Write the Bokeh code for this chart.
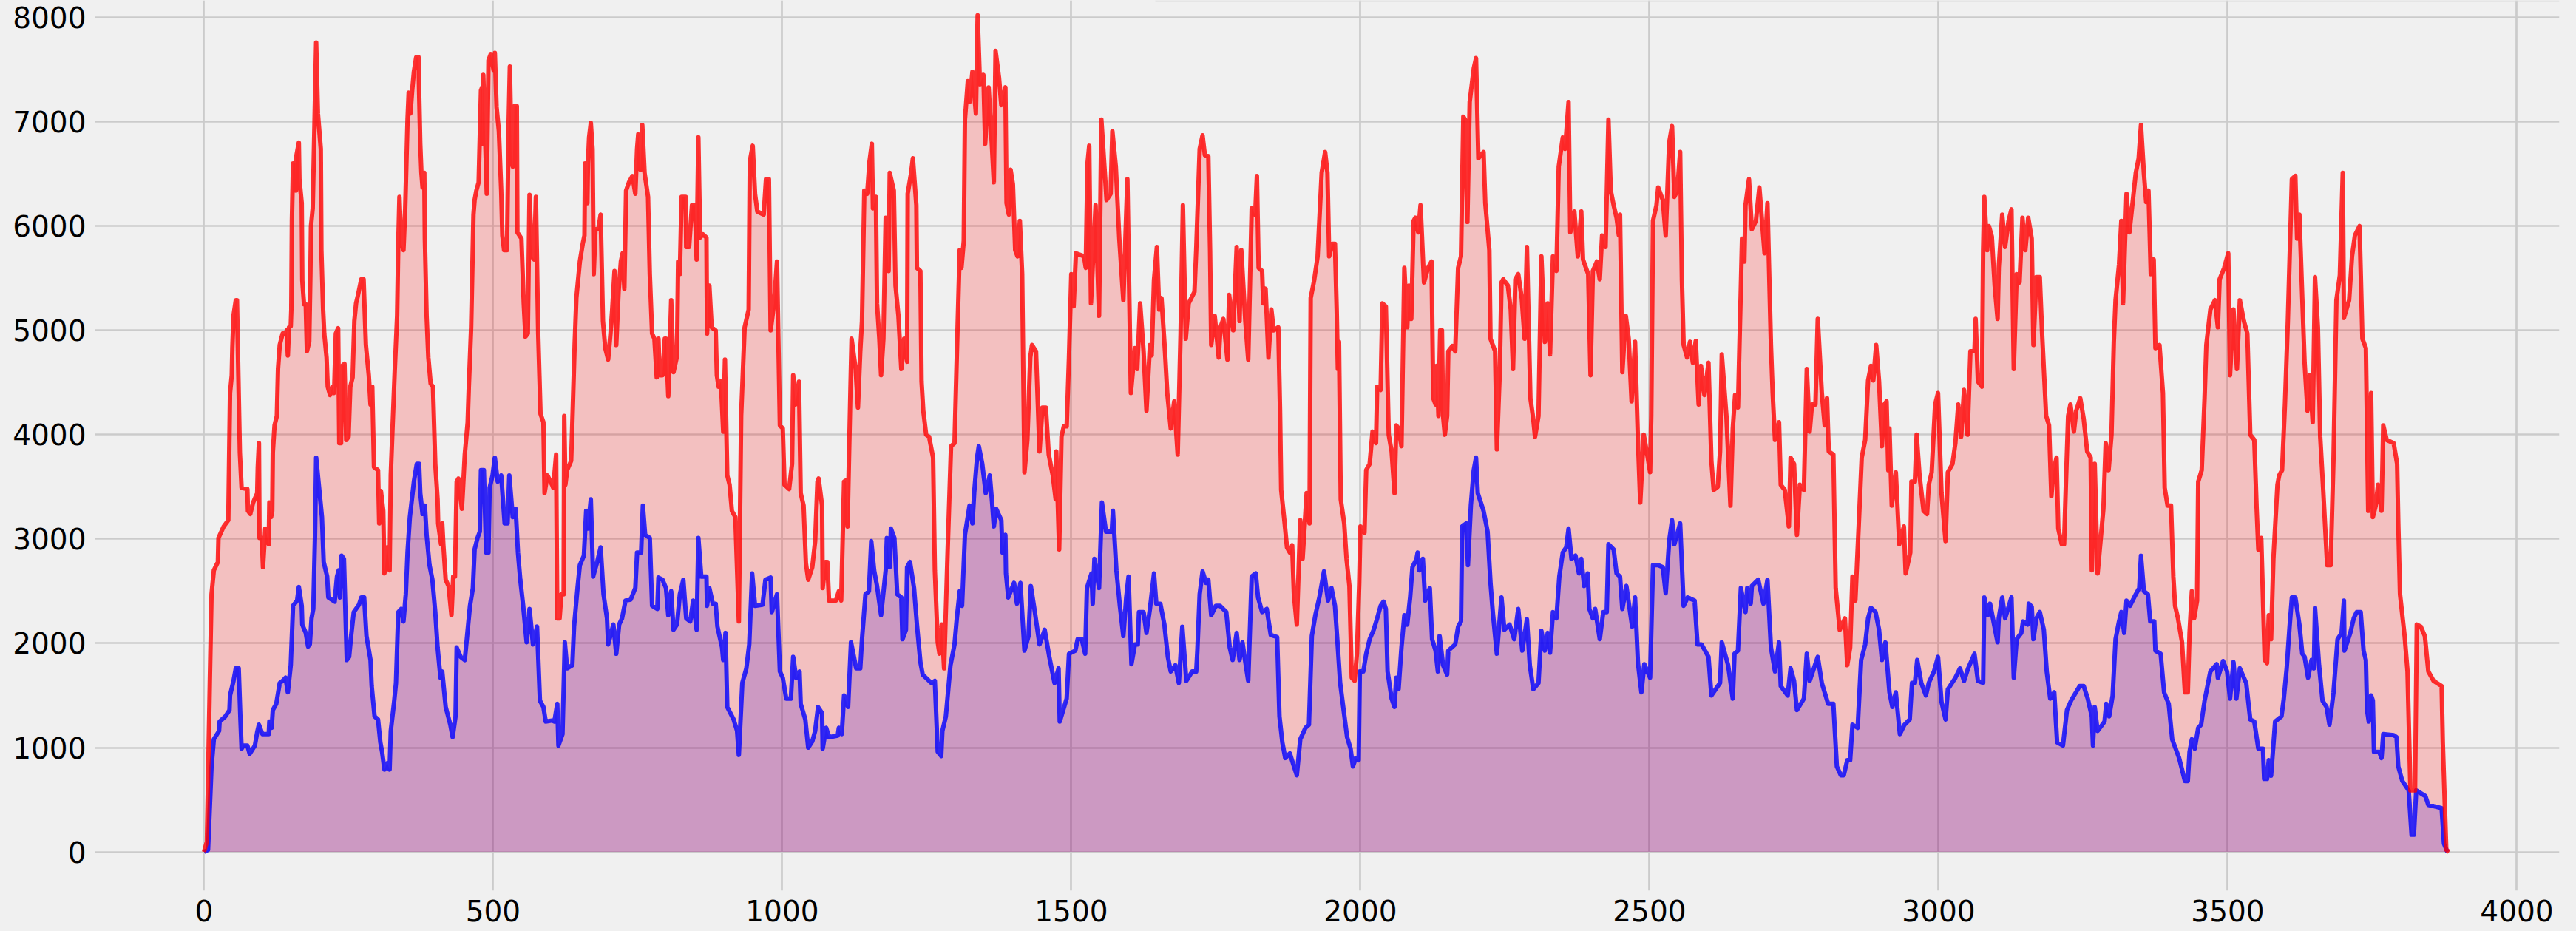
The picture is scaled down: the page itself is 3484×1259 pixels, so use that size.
from bokeh.plotting import figure
from bokeh.models import FixedTicker, Range1d, BoxAnnotation
from bokeh.embed import file_html
from bokeh.resources import INLINE

x_ticks = [0, 500, 1000, 1500, 2000, 2500, 3000, 3500, 4000]
y_ticks = [0, 1000, 2000, 3000, 4000, 5000, 6000, 7000, 8000]

red_a = [(0,0),(5,100),(10,1615),(13,2470),(17,2700),(24,2780),(25,3010),(34,3120),(42,3180),(45,4400),(48,4570),(49,4830),(51,5140),(55,5290),(57,5290),(60,4400),(62,3830),(65,3490),(75,3480),(76,3270),(80,3240),(85,3350),(92,3440),(93,3690),(95,3920),(96,3010),(100,3010),(102,2730),(106,3100),(112,2950),(113,3350),(116,3210),(118,3270),(119,3830),(122,4090),(126,4180),(128,4630),(131,4860),(136,4970),(141,4970),(143,5000),(145,4760),(147,5030),(150,5040),(151,5200),(152,6050),(154,6600),(158,6600),(159,6340),(160,6680),(164,6800),(165,6450),(169,6220),(170,5480),(173,5250),(176,5250),(178,4800),(182,4890),(184,5540),(185,6000),(188,6170),(191,6960),(194,7760),(197,7080),(202,6740),(203,5770),(206,5200),(208,4970),(212,4740),(214,4460),(218,4380),(222,4460),(225,4400),(228,4970),(232,5020),(234,3920),(237,3920),(239,4660),(243,4680),(246,3950),(250,3980),(253,4460),(257,4550),(260,5090),(263,5260),(266,5330),(272,5490),(276,5490),(280,4860),(285,4570),(288,4290),(291,4460),(294,3690),(301,3660),(303,3150),(306,3460),(310,3270),(312,2670),(317,2920),(321,2700),(323,3610),(326,4060),(330,4630),(334,5140),(336,5830),(338,6280),(341,5830),(345,5770),(348,6170),(352,7020),(354,7280),(357,7080),(360,7300),(363,7480),(367,7620),(371,7620),(372,7300),(374,6790),(376,6510),(378,6370),(381,6510),(382,5880),(385,5140),(388,4740),(392,4490),(396,4460),(400,3720),(404,3380),(405,3150),(410,2950),(412,3150),(414,2940),(418,2610),(423,2550),(428,2270),(431,2640),(434,2640),(437,3550),(440,3580),(443,3440),(446,3290),(448,3490),(451,3810),(456,4120),(458,4460),(462,5030),(466,6110),(468,6250),(471,6340),(475,6420),(479,7300),(481,7330),(482,6790),(483,7450),(486,6900),(489,6310),(492,7590),(496,7650),(501,7490),(503,7660),(506,7140),(510,6910),(514,6340),(516,5910),(519,5770),(524,5770),(527,7020),(529,7530),(532,6620),(534,6570),(537,7150),(541,7150),(542,5940),(549,5880),(553,5260),(556,4940),(560,4970),(563,6300),(567,5710),(571,5680),(574,6280),(578,4970),(582,4200),(587,4120),(589,3440),(594,3610),(602,3520),(604,3490),(609,3810),(611,2240),(615,2240),(618,2470),(622,2470),(623,4180),(625,3520),(628,3660),(635,3750),(638,4290),(641,4860),(644,5310),(650,5660),(655,5830),(658,5910),(659,6600),(663,6220),(664,6600),(666,6850),(669,6990),(672,6740),(674,5540),(677,5970),(682,5970),(686,6110),(690,5090),(694,4830),(699,4720),(703,4970),(706,5200),(710,5570),(713,4860),(717,5370),(721,5660),(724,5740),(727,5400),(730,6340),(735,6420),(741,6480),(746,6310),(749,6740),(751,6880),(755,6540),(758,6970),(762,6510),(768,6280),(771,5540),(775,4970),(779,4920),(783,4550),(786,4920),(788,4570),(793,4570),(797,4920)]

red_b = [(799,4920),(803,4370),(808,5290),(812,4600),(818,4750),(820,5660),(823,5540),(826,6280),(833,6280),(834,5800),(839,5800),(844,6200),(849,6200),(852,5680),(855,6850),(858,5890),(863,5920),(869,5890),(870,4970),(874,5430),(878,5030),(885,5000),(887,4570),(890,4460),(894,4510),(898,4030),(901,4720),(905,3610),(909,3520),(913,3270),(919,3210),(925,2210),(929,4180),(935,5030),(942,5200),(944,6620),(949,6770),(953,6310),(957,6140),(968,6110),(972,6450),(977,6450),(980,5000),(986,5260),(991,5660),(996,4090),(1001,4060),(1004,3520),(1012,3480),(1017,3720),(1019,4570),(1023,4290),(1029,4510),(1032,3440),(1037,3320),(1041,2770),(1045,2610),(1052,2730),(1057,2980),(1061,3550),(1063,3580),(1069,3320),(1070,2530),(1075,2780),(1078,2780),(1081,2410),(1093,2410),(1098,2500),(1102,2410),(1107,3550),(1110,3560),(1113,3120),(1118,4430),(1120,4920),(1127,4630),(1131,4260),(1135,4800),(1138,5090),(1142,6340),(1147,6310),(1151,6620),(1155,6790),(1157,6170),(1162,6280),(1164,5260),(1168,4920),(1171,4570),(1175,4920),(1179,6080),(1184,5570),(1186,6510),(1193,6340),(1196,5430),(1201,5140),(1206,4630),(1211,4920),(1216,4700),(1217,6310),(1223,6510),(1226,6650),(1232,6200),(1233,5600),(1239,5570),(1241,4510),(1244,4230),(1249,4000),(1254,3980),(1261,3780),(1264,2700),(1269,2010),(1272,1900),(1276,2180),(1280,1760),(1286,2870),(1292,3890),(1298,3920),(1303,4970),(1307,5770),(1310,5600),(1314,5860),(1316,7020),(1321,7390),(1324,7190),(1329,7480),(1335,7080),(1338,8020),(1342,7360),(1348,7450),(1351,6790),(1357,7330),(1363,6740),(1366,6420),(1369,7680),(1375,7420),(1379,7160),(1386,7330),(1388,6220),(1392,6110),(1395,6540),(1399,6400),(1403,5770),(1407,5710),(1411,6050),(1415,5540),(1419,3640),(1424,3950),(1429,4740),(1432,4860),(1439,4800),(1445,3840),(1450,4260),(1456,4260),(1461,3810),(1468,3610),(1473,3380),(1474,3840),(1479,2900),(1483,3980),(1487,4080),(1492,4080),(1496,4740),(1500,5540),(1504,5230),(1508,5740),(1522,5710),(1525,5600),(1528,6600),(1531,6770),(1534,5260),(1542,6200),(1548,5140),(1552,7020),(1561,6250),(1568,6310),(1571,6910),(1577,6570),(1583,5880),(1590,5290),(1597,6450),(1603,4400),(1610,4830),(1614,4630),(1619,5260),(1625,4800),(1630,4230),(1636,4860),(1639,4760),(1643,5480),(1648,5800),(1652,5200),(1656,5310),(1662,4800),(1666,4400),(1672,4060),(1678,4320),(1684,3810),(1689,4970),(1693,6200),(1698,4920),(1703,5260),(1713,5370),(1716,5770),(1722,6740),(1727,6870),(1731,6680),(1737,6670),(1740,5770),(1742,4860),(1748,5140),(1755,4740),(1758,5030),(1763,5110),(1770,4720),(1773,5340),(1780,5000),(1786,5800),(1791,5090),(1794,5770),(1801,5090),(1806,4720),(1812,6170),(1818,6110),(1821,6480),(1824,5600),(1830,5570),(1832,5260),(1836,5400),(1841,4740),(1846,5200),(1850,5000),(1858,5030),(1861,4230),(1863,3470),(1869,3150),(1873,2920),(1878,2870),(1882,2940),(1885,2470),(1890,2180),(1896,3180),(1900,2810),(1907,3440),(1912,3150),(1914,5310),(1920,5480),(1926,5710),(1933,6510),(1939,6710),(1943,6510),(1946,5710)]

red_c = [(1951,5830),(1956,5830),(1959,5200),(1961,4630),(1963,4890),(1966,3380),(1972,3150),(1976,2810),(1981,2550),(1985,1670),(1990,1640),(1994,1900),(1998,2580),(2000,3120),(2007,3060),(2010,3660),(2016,3720),(2021,4030),(2027,3920),(2029,4460),(2035,4430),(2038,5260),(2044,5230),(2049,4000),(2054,3840),(2059,3440),(2062,4090),(2066,4060),(2071,3890),(2076,5600),(2081,5030),(2084,5430),(2088,5110),(2092,6050),(2095,6080),(2100,5940),(2104,6200),(2110,5460),(2117,5600),(2123,5660),(2126,4350),(2130,4290),(2132,4660),(2135,4180),(2138,5000),(2141,5000),(2143,4180),(2146,4000),(2150,4180),(2152,4800),(2159,4850),(2164,4800),(2169,5600),(2174,5710),(2178,7050),(2181,7020),(2185,6040),(2189,7190),(2196,7510),(2200,7610),(2204,6650),(2213,6710),(2216,6220),(2223,5770),(2225,4920),(2233,4800),(2236,3860),(2241,4600),(2244,5460),(2247,5490),(2255,5430),(2260,5200),(2264,4630),(2268,5490),(2273,5540),(2279,5310),(2284,4920),(2288,5800),(2294,4350),(2299,4150),(2302,3980),(2308,4180),(2313,5710),(2319,4890),(2324,5260),(2328,4770),(2333,5710),(2339,5570),(2343,6570),(2350,6850),(2354,6740),(2360,7190),(2363,5940),(2370,6140),(2376,5710),(2382,6140),(2385,5680),(2394,5540),(2398,4570),(2402,5570),(2409,5660),(2414,5490),(2418,5910),(2424,5800),(2429,7020),(2433,6340),(2438,6200),(2443,6080),(2447,5910),(2449,6110),(2453,4600),(2459,5140),(2464,4920),(2469,4320),(2475,4890),(2480,3950),(2484,3350),(2490,4000),(2497,3780),(2501,3640),(2503,4180),(2506,6050),(2512,6200),(2515,6370),(2523,6250),(2528,5910),(2534,6800),(2539,6960),(2543,6280),(2548,6340),(2553,6710),(2556,5490),(2559,4860),(2565,4740),(2570,4890),(2575,4690),(2580,4900),(2585,4290),(2589,4660),(2595,4380),(2602,4690),(2607,3750),(2611,3470),(2618,3500),(2622,3840),(2625,4770),(2633,4180),(2640,3320),(2644,4060),(2648,4380),(2653,4260),(2660,5880),(2664,5660),(2666,6200),(2672,6450),(2677,5970),(2684,6050),(2690,6370),(2699,5740),(2704,6220),(2710,4860),(2713,4400),(2717,3950),(2724,4120),(2727,3520),(2734,3470),(2741,3120),(2744,3780),(2750,3720),(2755,3040),(2760,3520),(2767,3470),(2772,4630),(2777,4030),(2781,4290),(2787,4290),(2791,5110),(2798,4400),(2803,4090),(2807,4350),(2810,3840),(2818,3810),(2822,2530),(2829,2130),(2838,2240),(2842,1790),(2847,1960),(2851,2640),(2856,2410),(2862,3150),(2867,3780),(2873,3950),(2878,4520),(2883,4660),(2887,4520),(2892,4860),(2897,4510),(2902,3890),(2906,4290),(2910,4320),(2913,3660),(2915,4060),(2919,3320),(2926,3640),(2932,2950),(2940,3120),(2943,2670),(2951,2870),(2953,3550),(2959,3550),(2962,4000),(2967,3610),(2974,3270),(2980,3240),(2983,3520),(2988,3640),(2994,4290),(2999,4400),(3005,3440),(3012,2980),(3016,3640),(3024,3720),(3029,3920),(3034,4290),(3039,3980),(3044,4430),(3050,4000),(3055,4800),(3062,4800),(3064,5110),(3068,4510),(3075,4460),(3077,5770)]

red_d = [(3079,6280),(3084,5770),(3087,6000),(3092,5900),(3097,5430),(3102,5110),(3104,5600),(3110,6110),(3115,5800),(3121,6050),(3126,6160),(3130,4630),(3135,5540),(3140,5460),(3145,6080),(3150,5770),(3155,6080),(3161,5880),(3164,4860),(3169,5510),(3175,5510),(3179,4970),(3186,4180),(3191,4090),(3195,3410),(3199,3660),(3204,3780),(3207,3100),(3213,2950),(3217,2950),(3220,3500),(3224,4180),(3228,4290),(3234,4030),(3238,4230),(3245,4350),(3251,4150),(3257,3840),(3263,3780),(3265,2700),(3270,3720),(3275,2670),(3280,2980),(3285,3290),(3289,3920),(3294,3660),(3299,4000),(3303,4890),(3306,5290),(3312,5630),(3316,6050),(3319,5260),(3325,6310),(3330,5940),(3335,6200),(3341,6510),(3346,6650),(3350,6970),(3355,6510),(3359,6230),(3363,6340),(3367,5540),(3372,5680),(3375,4830),(3382,4860),(3388,4400),(3391,3490),(3396,3320),(3402,3320),(3406,2640),(3409,2360),(3414,2240),(3421,2010),(3426,1530),(3431,1530),(3434,2100),(3438,2500),(3442,2240),(3447,2410),(3449,3550),(3455,3660),(3460,4350),(3463,4860),(3470,5200),(3478,5290),(3483,5030),(3486,5490),(3494,5600),(3501,5740),(3504,4570),(3510,5200),(3516,4630),(3521,5290),(3528,5090),(3534,4970),(3539,4000),(3546,3950),(3550,3300),(3553,2900),(3558,3010),(3564,1840),(3568,1810),(3571,2270),(3575,2040),(3579,2810),(3586,3520),(3589,3610),(3594,3660),(3599,4290),(3604,5090),(3611,6450),(3617,6480),(3620,5880),(3624,6110),(3629,5310),(3633,4690),(3638,4230),(3642,4570),(3647,4120),(3651,5510),(3656,5030),(3660,3980),(3665,3490),(3672,2750),(3678,2750),(3683,3780),(3688,5290),(3694,5530),(3699,6510),(3701,5120),(3710,5290),(3715,5710),(3720,5910),(3728,6000),(3733,4920),(3739,4830),(3743,3270),(3748,4400),(3751,3210),(3756,3320),(3760,3520),(3766,3270),(3769,4090),(3775,3950),(3787,3920),(3793,3720),(3795,3150),(3798,2470),(3806,2070),(3811,1730),(3816,590),(3824,590),(3827,2180),(3834,2160),(3841,2070),(3847,1730),(3856,1640),(3870,1590),(3872,1050),(3878,20),(3883,0)]

blue_a = [(0,0),(7,20),(13,820),(17,1080),(26,1160),(27,1250),(37,1300),(44,1360),(45,1500),(51,1640),(55,1760),(60,1760),(63,1270),(65,990),(68,1020),(75,1020),(79,940),(88,1020),(92,1150),(95,1220),(101,1130),(112,1130),(113,1250),(117,1190),(119,1360),(125,1420),(131,1620),(136,1640),(141,1670),(145,1530),(150,1790),(154,2360),(161,2410),(164,2540),(169,2360),(170,2180),(176,2100),(180,1970),(183,1990),(186,2240),(189,2330),(192,3040),(194,3780),(198,3550),(204,3210),(207,2780),(213,2640),(215,2440),(226,2400),(230,2640),(233,2700),(235,2440),(238,2840),(242,2810),(247,1840),(251,1870),(255,2100),(259,2300),(268,2370),(272,2440),(277,2440),(281,2070),(288,1840),(290,1590),(295,1300),(301,1270),(305,1050),(308,960),(312,790),(317,850),(321,790),(323,1160),(329,1450),(332,1620),(336,2300),(341,2330),(345,2210),(349,2470),(352,2870),(356,3210),(363,3550),(368,3720),(372,3720),(374,3440),(378,3240),(382,3320),(385,3040),(390,2750),(395,2610),(400,2300),(404,1960),(409,1670),(412,1730),(418,1390),(426,1220),(430,1100),(435,1300),(437,1960),(444,1870),(451,1840),(455,2070),(460,2360),(465,2530),(468,2900),(473,3010),(477,3070),(479,3660),(484,3660),(488,2870),(492,2870),(494,3490),(499,3610),(503,3780),(508,3550),(514,3610),(520,3150),(525,3150),(528,3610),(534,3210),(539,3290),(543,2870),(547,2610),(552,2360),(558,2010),(563,2330),(569,1990),(576,2160),(581,1450),(587,1390),(591,1250),(602,1260),(606,1250),(611,1420),(613,1020),(620,1130),(624,2010),(628,1760),(637,1790),(640,2160),(646,2530),(650,2750),(657,2840),(661,3270),(664,3100),(669,3380),(673,2640),(680,2780),(686,2920),(691,2470),(697,2240),(699,1990),(708,2180),(713,1900),(718,2180),(723,2240),(729,2410),(738,2420),(746,2530),(749,2870),(756,2870),(759,3320),(763,3040),(771,3010),(775,2360),(784,2330),(786,2630),(793,2610)]

blue_b = [(799,2530),(803,2270),(808,2500),(812,2130),(818,2180),(823,2470),(829,2610),(834,2240),(841,2210),(846,2410),(852,2130),(855,3010),(860,2640),(869,2640),(870,2360),(874,2530),(880,2380),(885,2380),(888,2160),(896,1960),(898,1840),(902,2100),(905,1390),(916,1270),(922,1160),(925,930),(931,1620),(938,1760),(943,1990),(948,2670),(953,2360),(966,2370),(971,2610),(980,2630),(982,2300),(991,2470),(996,1730),(1001,1670),(1007,1470),(1015,1470),(1019,1870),(1024,1670),(1030,1730),(1032,1420),(1040,1270),(1045,1000),(1052,1060),(1057,1160),(1062,1390),(1069,1330),(1070,990),(1076,1190),(1081,1100),(1096,1115),(1098,1190),(1103,1130),(1107,1500),(1114,1390),(1119,2010),(1128,1760),(1135,1760),(1138,2040),(1144,2470),(1150,2500),(1154,2980),(1159,2700),(1164,2550),(1171,2270),(1179,2700),(1181,3010),(1186,2730),(1188,3100),(1194,3010),(1199,2470),(1206,2440),(1208,2040),(1214,2130),(1216,2730),(1221,2780),(1228,2530),(1233,2180),(1239,1820),(1243,1700),(1258,1620),(1264,1640),(1269,960),(1275,920),(1277,1160),(1283,1300),(1291,1790),(1298,1990),(1302,2240),(1307,2500),(1311,2360),(1316,3040),(1324,3320),(1329,3150),(1332,3440),(1337,3780),(1340,3890),(1346,3720),(1352,3440),(1359,3610),(1363,3350),(1366,3120),(1370,3290),(1379,3180),(1381,2870),(1386,3040),(1387,2670),(1391,2440),(1401,2580),(1406,2380),(1412,2580),(1419,1930),(1426,2070),(1430,2550),(1437,2300),(1445,1990),(1454,2130),(1462,1870),(1471,1620),(1478,1760),(1480,1250),(1492,1470),(1496,1900),(1507,1930),(1511,2040),(1518,2040),(1524,1900),(1527,2530),(1535,2670),(1537,2380),(1540,2810),(1548,2530),(1553,3350),(1560,3070),(1570,3070),(1572,3270),(1578,2700),(1584,2360),(1590,2070),(1595,2440),(1599,2640),(1604,1800),(1610,1990),(1615,1990),(1617,2300),(1625,2300),(1630,2100),(1636,2330),(1643,2670),(1647,2380),(1654,2380),(1661,2180),(1667,1870),(1672,1730),(1680,1790),(1686,1620),(1692,2160),(1699,1640),(1709,1730),(1716,1730),(1718,1930),(1722,2470),(1727,2690),(1733,2580),(1737,2610),(1742,2270),(1750,2360),(1757,2360),(1768,2300),(1774,1960),(1779,1840),(1786,2100),(1791,1840),(1796,2010),(1801,1820),(1806,1640),(1812,2640),(1819,2670),(1823,2440),(1830,2300),(1838,2330),(1845,2080),(1856,2060),(1860,1300),(1865,1050),(1870,900),(1878,945),(1885,820),(1890,735),(1896,1080),(1905,1190),(1911,1220),(1916,2070),(1922,2270),(1929,2440),(1937,2690),(1944,2410)]

blue_c = [(1950,2530),(1956,2360),(1961,1960),(1965,1620),(1971,1360),(1977,1100),(1983,990),(1987,820),(1992,900),(1997,880),(1999,1730),(2005,1730),(2010,1900),(2016,2040),(2023,2130),(2029,2240),(2035,2360),(2040,2400),(2044,2330),(2047,1730),(2054,1470),(2059,1390),(2062,1670),(2066,1560),(2071,1960),(2076,2270),(2081,2180),(2086,2440),(2090,2730),(2097,2810),(2099,2870),(2102,2700),(2108,2810),(2112,2410),(2120,2530),(2124,2040),(2130,1930),(2134,1730),(2137,2070),(2143,1790),(2150,1700),(2152,1930),(2164,1990),(2169,2160),(2174,2210),(2176,3120),(2183,3150),(2186,2750),(2191,3320),(2196,3660),(2200,3780),(2203,3440),(2213,3270),(2220,3070),(2225,2580),(2229,2300),(2236,1900),(2244,2440),(2249,2130),(2258,2180),(2266,2040),(2273,2330),(2280,1930),(2288,2230),(2293,1790),(2299,1560),(2308,1620),(2313,2120),(2319,1930),(2324,2100),(2328,1910),(2333,2300),(2339,2240),(2344,2640),(2350,2870),(2356,2920),(2360,3100),(2365,2810),(2372,2840),(2378,2670),(2382,2810),(2387,2550),(2393,2670),(2396,2330),(2402,2240),(2406,2330),(2414,2040),(2420,2300),(2426,2300),(2429,2950),(2438,2900),(2443,2670),(2449,2640),(2453,2330),(2460,2550),(2470,2160),(2475,2440),(2480,1815),(2486,1530),(2491,1800),(2501,1670),(2506,2750),(2515,2750),(2523,2730),(2528,2480),(2534,2980),(2539,3180),(2543,2950),(2553,3150),(2559,2360),(2566,2440),(2578,2410),(2583,1990),(2590,1990),(2602,1870),(2607,1500),(2622,1620),(2625,2010),(2636,1790),(2644,1470),(2647,1900),(2653,1930),(2658,2530),(2666,2300),(2669,2530),(2675,2380),(2677,2550),(2688,2610),(2697,2380),(2704,2610),(2710,1960),(2717,1730),(2724,2010),(2727,1590),(2739,1500),(2744,1760),(2750,1640),(2755,1360),(2767,1470),(2772,1900),(2777,1640),(2791,1870),(2798,1620),(2809,1420),(2818,1420),(2824,820),(2831,735),(2836,735),(2842,880),(2847,880),(2851,1220),(2860,1190),(2866,1840),(2873,1990),(2878,2240),(2883,2340),(2891,2300),(2897,2130),(2902,1840),(2908,2010),(2915,1530),(2920,1390),(2926,1530),(2933,1130),(2941,1220),(2950,1270),(2954,1620),(2959,1620),(2963,1840),(2970,1620),(2978,1500),(2983,1620),(2992,1730),(2999,1870),(3005,1440),(3012,1270),(3016,1560),(3029,1670),(3037,1760),(3044,1640),(3051,1760),(3062,1900),(3068,1640),(3077,1620)]

blue_d = [(3079,2440),(3085,2270),(3089,2380),(3096,2180),(3102,2010),(3104,2240),(3110,2440),(3115,2240),(3126,2440),(3130,1670),(3135,2040),(3143,2100),(3146,2210),(3154,2180),(3156,2380),(3161,2350),(3164,2040),(3169,2240),(3175,2300),(3182,2130),(3187,1730),(3193,1470),(3200,1530),(3205,1050),(3215,1020),(3222,1360),(3229,1450),(3244,1590),(3251,1590),(3258,1470),(3265,1300),(3267,1020),(3270,1390),(3275,1160),(3287,1250),(3290,1420),(3295,1300),(3301,1500),(3306,2040),(3312,2210),(3316,2300),(3321,2100),(3325,2410),(3331,2360),(3341,2470),(3347,2530),(3350,2840),(3355,2500),(3362,2470),(3366,2210),(3373,2210),(3375,1930),(3384,1900),(3390,1530),(3398,1420),(3404,1080),(3416,900),(3426,680),(3431,680),(3434,960),(3438,1080),(3443,990),(3449,1190),(3454,1220),(3460,1450),(3465,1590),(3470,1730),(3481,1800),(3483,1670),(3492,1830),(3499,1730),(3504,1470),(3510,1820),(3515,1470),(3521,1760),(3532,1620),(3539,1270),(3546,1250),(3553,990),(3561,990),(3563,700),(3568,700),(3571,880),(3575,730),(3582,1250),(3593,1300),(3597,1470),(3602,1760),(3607,2160),(3611,2440),(3617,2440),(3624,2180),(3629,1900),(3633,1870),(3639,1670),(3645,1840),(3649,1760),(3651,2340),(3658,1790),(3664,1450),(3671,1390),(3676,1220),(3683,1530),(3690,2040),(3697,2100),(3701,2410),(3702,1930),(3712,2100),(3718,2240),(3723,2300),(3730,2300),(3735,1930),(3739,1840),(3741,1360),(3744,1250),(3748,1500),(3751,1450),(3753,960),(3762,960),(3766,900),(3769,1130),(3787,1120),(3792,1100),(3795,820),(3802,680),(3813,590),(3818,165),(3822,165),(3826,590),(3842,535),(3847,450),(3856,440),(3870,420),(3874,80),(3880,0)]

red = red_a + red_b + red_c + red_d
blue = blue_a + blue_b + blue_c + blue_d
red_x = [a for a, _ in red]
red_y = [b for _, b in red]
blue_x = [a for a, _ in blue]
blue_y = [b for _, b in blue]

BG = "#f0f0f0"
p = figure(width=3484, height=1259, output_backend="svg", toolbar_location=None,
           x_range=Range1d(-188.5, 4073.6), y_range=Range1d(-371.5, 8164),
           min_border_left=128, min_border_right=23, min_border_top=0, min_border_bottom=55,
           background_fill_color=BG, border_fill_color=BG, outline_line_color=None)

for ax in (p.xaxis[0], p.yaxis[0]):
    ax.axis_line_color = None
    ax.major_tick_line_color = None
    ax.minor_tick_line_color = None
    ax.major_tick_in = 0
    ax.major_tick_out = 0
    ax.major_label_text_font = "DejaVu Sans"
    ax.major_label_text_font_size = "39px"
    ax.major_label_text_color = "#000000"
    ax.major_label_standoff = 12
p.xaxis[0].ticker = FixedTicker(ticks=x_ticks)
p.yaxis[0].ticker = FixedTicker(ticks=y_ticks)
for g in (p.xgrid[0], p.ygrid[0]):
    g.grid_line_color = "#cbcbcb"
    g.grid_line_width = 2.7
p.xgrid[0].ticker = FixedTicker(ticks=x_ticks)
p.ygrid[0].ticker = FixedTicker(ticks=y_ticks)

# Bottom edge of a box that the reference's crop cuts off at the top of the picture.
# Screen units here count from the frame's lower left corner.
p.add_layout(BoxAnnotation(left=1434, right=3333, top=1204, bottom=1202,
                           left_units="screen", right_units="screen",
                           top_units="screen", bottom_units="screen",
                           fill_color="#d9d9d9", fill_alpha=1, line_color=None))

p.varea(blue_x, [0] * len(blue_x), blue_y, fill_color="#0000ff", fill_alpha=0.2)
p.varea(red_x, [0] * len(red_x), red_y, fill_color="#ff0000", fill_alpha=0.2)
p.line(blue_x, blue_y, line_color="#0000ff", line_alpha=0.8, line_width=6, line_join="round")
p.line(red_x, red_y, line_color="#ff0000", line_alpha=0.8, line_width=6, line_join="round")

html = file_html(p, INLINE)
html = html.replace("<head>", "<head><style>html,body{background:#f0f0f0}</style>", 1)
open("out.html", "w").write(html)
